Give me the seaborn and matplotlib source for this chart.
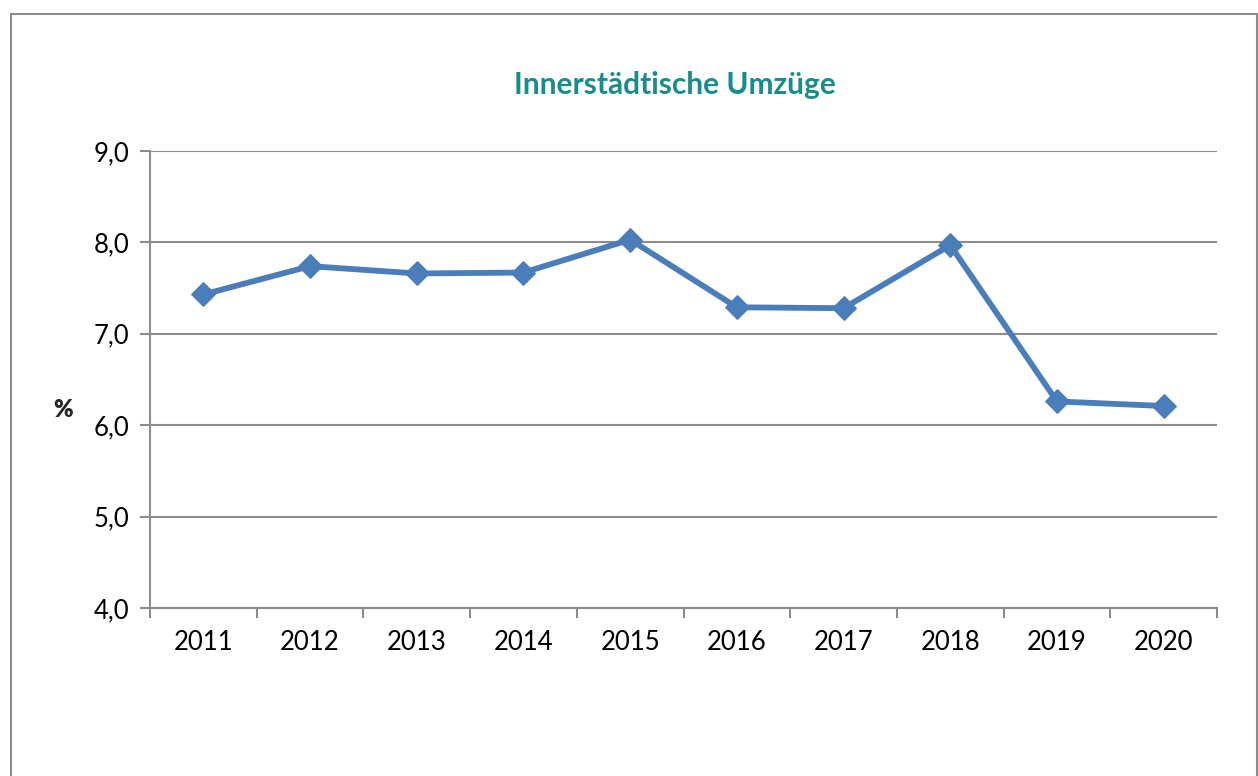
import matplotlib
matplotlib.use("Agg")
import matplotlib.pyplot as plt
from matplotlib.patches import Rectangle
from matplotlib.ticker import FuncFormatter, FixedLocator
import seaborn as sns
import pandas as pd

# ====== Daten ======
years = ["2011", "2012", "2013", "2014", "2015", "2016", "2017", "2018", "2019", "2020"]
umzuege = [7.43, 7.74, 7.66, 7.67, 8.03, 7.29, 7.28, 7.97, 6.26, 6.21]

TITLE = "Innerstädtische Umzüge"
Y_LABEL = "%"

LINE_COLOR = "#4A7EBB"
TITLE_COLOR = "#1A8C8C"
GRID_COLOR = "#8C8C8C"

df = pd.DataFrame({"Jahr": years, "Wert": umzuege})

sns.set_theme(style="white")
plt.rcParams["font.family"] = ["Lato", "DejaVu Sans"]

fig = plt.figure(figsize=(12.58, 7.76), dpi=100)
ax = fig.add_axes([150 / 1258, 1 - 608 / 776, (1217 - 150) / 1258, (608 - 151) / 776])

sns.lineplot(data=df, x="Jahr", y="Wert", ax=ax, color=LINE_COLOR, linewidth=4.2,
             marker="D", markersize=12, markeredgecolor=LINE_COLOR, sort=False)

ax.set_ylim(4, 9)
ax.set_xlim(-0.5, len(years) - 0.5)
ax.set_yticks([4, 5, 6, 7, 8, 9])
ax.yaxis.set_major_formatter(FuncFormatter(lambda v, p: f"{v:.1f}".replace(".", ",")))
ax.yaxis.grid(True, color=GRID_COLOR, linewidth=1.5)
ax.set_axisbelow(True)

# Kategorie-Ticks zwischen den Jahren (Excel-Stil)
ax.xaxis.set_minor_locator(FixedLocator([i - 0.5 for i in range(len(years) + 1)]))
ax.tick_params(axis="x", which="major", length=0, pad=16, labelsize=18.5, labelcolor="black")
ax.tick_params(axis="x", which="minor", length=7, width=1.5, color=GRID_COLOR, direction="out", bottom=True)
ax.tick_params(axis="y", length=7, width=1.5, color=GRID_COLOR, direction="out", left=True, pad=8,
               labelsize=18.5, labelcolor="black")

for side in ["top", "right"]:
    ax.spines[side].set_visible(False)
for side in ["left", "bottom"]:
    ax.spines[side].set_color(GRID_COLOR)
    ax.spines[side].set_linewidth(1.5)

ax.set_xlabel("")
ax.set_ylabel("")
fig.text(63 / 1258, 1 - 410 / 776, Y_LABEL, fontsize=17, fontweight="heavy", ha="center", va="center")
fig.text(675 / 1258, 1 - 85 / 776, TITLE, fontsize=21.5, fontweight="bold", color=TITLE_COLOR,
         ha="center", va="center")

# Rahmen um das Diagramm
fig.patches.append(Rectangle((11 / 1258, -0.05), (1257 - 11) / 1258, 1.05 - 14 / 776,
                             transform=fig.transFigure, fill=False, edgecolor="#8C8C8C", linewidth=1.5))

fig.savefig("out.png", dpi=100)
